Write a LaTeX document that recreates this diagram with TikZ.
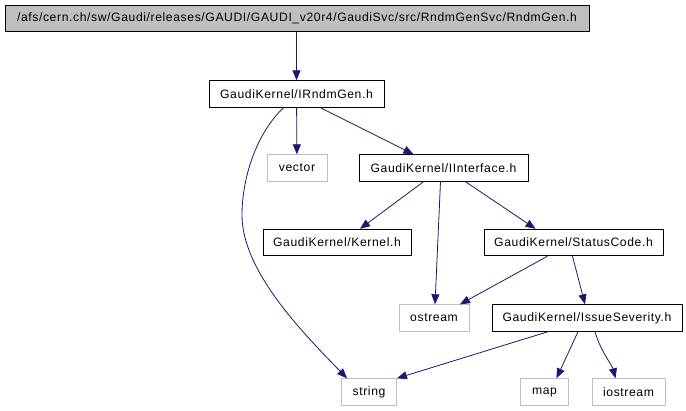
\documentclass[tikz,border=0pt]{standalone}
\usepackage{fontspec}
\setmainfont{Liberation Sans}[LetterSpace=5]
\usetikzlibrary{arrows.meta, positioning}
\definecolor{edgeblue}{HTML}{191970}
\definecolor{sysgray}{HTML}{BFBFBF}

\begin{document}
\begin{tikzpicture}[
		x=1bp, y=-1bp,
		file/.style={draw=black, rectangle, minimum height=26.5bp, inner xsep=2bp, line width=0.9bp, font=\fontsize{12.2}{14}\selectfont},
		top/.style={file, fill=sysgray},
		sys/.style={file, draw=sysgray},
		dep/.style={-{Triangle[length=10bp, width=8bp]}, edgeblue, line width=0.8bp}
		]
		\useasboundingbox (0,0) rectangle (686,410);
		
		% Nodes
		\node[top, minimum width=584bp] (rndm) at (297,18.5) {/afs/cern.ch/sw/Gaudi/releases/GAUDI/GAUDI\_v20r4/GaudiSvc/src/RndmGenSvc/RndmGen.h};
		
		\node[file, minimum width=175bp] (irndm) at (296.5,94) {GaudiKernel/IRndmGen.h};
		
		\node[sys, minimum width=60bp] (vec) at (297,168) {vector};
		\node[file, minimum width=169bp] (iface) at (443.5,168) {GaudiKernel/IInterface.h};
		
		\node[file, minimum width=148bp] (kern) at (337,242.5) {GaudiKernel/Kernel.h};
		\node[file, minimum width=179bp] (status) at (573.5,242.5) {GaudiKernel/StatusCode.h};
		
		\node[sys, minimum width=70bp] (ostr) at (434,318) {ostream};
		\node[file, minimum width=190bp] (sever) at (587,318) {GaudiKernel/IssueSeverity.h};
		
		\node[sys, minimum width=55bp] (str) at (369,392) {string};
		\node[sys, minimum width=48bp] (map) at (544.5,392) {map};
		\node[sys, minimum width=73bp] (iostr) at (628.5,392) {iostream};
		
		% Arrows
		\draw[dep] (rndm.south -| irndm) -- (irndm);
		\draw[dep] (irndm) -- (vec);
		\draw[dep] ([xshift=-13bp]irndm.south) .. controls (255,135) and (242,180) .. (242,215) .. controls (242,270) and (300,330) .. ([xshift=6bp]str.north west);
		\draw[dep] ([xshift=24bp]irndm.south) -- ([xshift=-30bp]iface.north);
		
		\draw[dep] ([xshift=-20bp]iface.south) -- ([xshift=23bp]kern.north);
		\draw[dep] ([xshift=-3bp]iface.south) -- ([xshift=1bp]ostr.north);
		\draw[dep] ([xshift=22bp]iface.south) -- ([xshift=-38bp]status.north);
		
		\draw[dep] ([xshift=-26bp]status.south) -- ([xshift=26bp]ostr.north);
		\draw[dep] ([xshift=-1bp]status.south) -- ([xshift=-2bp]sever.north);
		
		\draw[dep] ([xshift=-39bp]sever.south) -- (str.north east);
		\draw[dep] ([xshift=-9bp]sever.south) -- ([xshift=12bp]map.north);
		\draw[dep] ([xshift=8bp]sever.south) .. controls (600,350) and (612,365) .. ([xshift=-13bp]iostr.north);
		
	\end{tikzpicture}
\end{document}
